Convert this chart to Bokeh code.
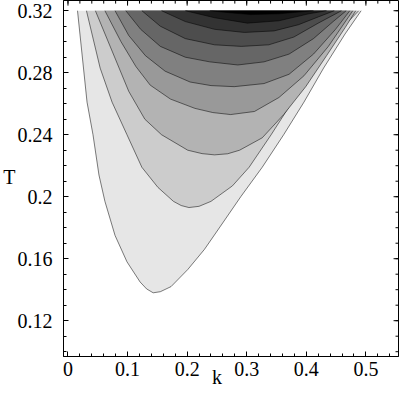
import numpy as np
from bokeh.plotting import figure
from bokeh.models import Range1d, LinearAxis, FixedTicker, CustomJSTickFormatter
from bokeh.embed import file_html
from bokeh.resources import INLINE

# ---------------- data ----------------
k_ticks = [0, 0.1, 0.2, 0.3, 0.4, 0.5]
k_tick_labels = ["0", "0.1", "0.2", "0.3", "0.4", "0.5"]
T_ticks = [0.12, 0.16, 0.2, 0.24, 0.28, 0.32]
T_tick_labels = ["0.12", "0.16", "0.2", "0.24", "0.28", "0.32"]
x_title, x_title_at = "k", 0.25     # axis titles and where they sit along their axis
y_title, y_title_at = "T", 0.2128

# contour curves, from the outermost (lowest level) to the innermost
L1_k = [0.016, 0.032, 0.042, 0.052, 0.062, 0.079, 0.099, 0.121, 0.132, 0.143, 0.155, 0.173, 0.201, 0.229, 0.256, 0.290, 0.326, 0.362, 0.396, 0.429, 0.465, 0.492]
L1_T = [0.320, 0.261, 0.240, 0.214, 0.197, 0.175, 0.158, 0.145, 0.1405, 0.138, 0.1387, 0.142, 0.153, 0.166, 0.181, 0.200, 0.219, 0.240, 0.261, 0.283, 0.305, 0.320]
L2_k = [0.031, 0.054, 0.074, 0.099, 0.124, 0.151, 0.177, 0.190, 0.203, 0.220, 0.240, 0.276, 0.304, 0.341, 0.376, 0.412, 0.450, 0.488]
L2_T = [0.320, 0.283, 0.261, 0.240, 0.219, 0.206, 0.197, 0.1943, 0.193, 0.1938, 0.197, 0.207, 0.219, 0.240, 0.261, 0.283, 0.305, 0.320]
L3_k = [0.046, 0.074, 0.102, 0.129, 0.157, 0.201, 0.225, 0.246, 0.268, 0.288, 0.326, 0.362, 0.399, 0.434, 0.465, 0.483]
L3_T = [0.320, 0.294, 0.268, 0.250, 0.240, 0.230, 0.2278, 0.227, 0.2277, 0.230, 0.238, 0.253, 0.271, 0.291, 0.309, 0.320]
L4_k = [0.062, 0.089, 0.114, 0.138, 0.172, 0.213, 0.243, 0.273, 0.313, 0.354, 0.396, 0.437, 0.478]
L4_T = [0.320, 0.300, 0.284, 0.272, 0.263, 0.257, 0.2543, 0.253, 0.255, 0.264, 0.278, 0.297, 0.320]
L5_k = [0.079, 0.102, 0.130, 0.163, 0.205, 0.240, 0.279, 0.329, 0.371, 0.412, 0.449, 0.473]
L5_T = [0.320, 0.304, 0.291, 0.281, 0.274, 0.2717, 0.271, 0.273, 0.279, 0.292, 0.308, 0.320]
L6_k = [0.097, 0.122, 0.155, 0.197, 0.238, 0.285, 0.329, 0.371, 0.412, 0.445, 0.467]
L6_T = [0.320, 0.308, 0.297, 0.290, 0.287, 0.285, 0.287, 0.292, 0.302, 0.313, 0.320]
L7_k = [0.124, 0.155, 0.197, 0.246, 0.291, 0.337, 0.379, 0.420, 0.459]
L7_T = [0.320, 0.310, 0.302, 0.298, 0.297, 0.298, 0.303, 0.312, 0.320]
L8_k = [0.157, 0.197, 0.246, 0.296, 0.346, 0.387, 0.420, 0.447]
L8_T = [0.320, 0.313, 0.308, 0.306, 0.307, 0.311, 0.316, 0.320]
L9_k = [0.197, 0.246, 0.301, 0.354, 0.404, 0.434]
L9_T = [0.320, 0.3155, 0.312, 0.3135, 0.318, 0.320]
L10_k = [0.238, 0.271, 0.307, 0.354, 0.412]
L10_T = [0.320, 0.3187, 0.3175, 0.318, 0.320]

curves = [(L1_k, L1_T), (L2_k, L2_T), (L3_k, L3_T), (L4_k, L4_T), (L5_k, L5_T),
          (L6_k, L6_T), (L7_k, L7_T), (L8_k, L8_T), (L9_k, L9_T), (L10_k, L10_T)]
band_gray = [230, 204, 179, 153, 128, 102, 77, 51, 26, 0]

# ---------------- figure ----------------
FONT = "'Liberation Serif', 'Times New Roman', serif"
X0, X1 = -0.0075, 0.5547
Y0, Y1 = 0.0969, 0.3266
p = figure(width=399, height=390, output_backend="svg", toolbar_location=None,
           x_range=Range1d(X0, X1), y_range=Range1d(Y0, Y1),
           min_border_left=59, min_border_right=1, min_border_top=0, min_border_bottom=0)
p.grid.visible = False
p.background_fill_color = "white"
p.border_fill_color = "white"
p.outline_line_color = "black"
p.outline_line_width = 1

for (kk, tt), g in zip(curves, band_gray):
    col = "#%02x%02x%02x" % (g, g, g)
    p.patch(kk, tt, fill_color=col, line_color=None)
    p.line(kk, tt, line_color="black", line_width=0.6, line_alpha=0.85)

k_minor = list(np.round(np.arange(0.0, 0.5541, 0.02), 3))
T_minor = list(np.round(np.arange(0.10, 0.3251, 0.01), 3))

LABEL_CODE = """
const i = tvals.findIndex(t => Math.abs(t - tick) < 1e-9);
return i >= 0 ? tlabels[i] : "";
"""

def style_axis(ax, ticks, minor, labels, standoff, tick_lines=True):
    ax.ticker = FixedTicker(ticks=ticks, minor_ticks=minor)
    ax.formatter = CustomJSTickFormatter(args=dict(tvals=list(ticks), tlabels=list(labels)), code=LABEL_CODE)
    ax.major_tick_in = 5 if tick_lines else 0
    ax.major_tick_out = 0
    ax.minor_tick_in = 3 if tick_lines else 0
    ax.minor_tick_out = 0
    ax.axis_line_color = "black" if tick_lines else None
    ax.major_tick_line_color = "black" if tick_lines else None
    ax.minor_tick_line_color = "black" if tick_lines else None
    ax.major_label_text_font = FONT
    ax.major_label_text_font_size = "20px"
    ax.major_label_text_color = "black"
    ax.major_label_standoff = standoff

style_axis(p.xaxis[0], k_ticks, k_minor, k_tick_labels, 5)
style_axis(p.yaxis[0], T_ticks, T_minor, T_tick_labels, 11)

# axis titles, carried as the single label of an extra tick-less axis
k_title = LinearAxis()
style_axis(k_title, [x_title_at], [], [x_title], -13, tick_lines=False)
p.add_layout(k_title, "below")
T_title = LinearAxis()
style_axis(T_title, [y_title_at], [], [y_title], -1, tick_lines=False)
p.add_layout(T_title, "left")

# ticks on the top and right frame edges
tlen_T, tmin_T = 0.0033, 0.002
tlen_k, tmin_k = 0.0083, 0.005
p.segment(x0=k_ticks, y0=[Y1] * len(k_ticks), x1=k_ticks, y1=[Y1 - tlen_T] * len(k_ticks), line_color="black", line_width=1)
p.segment(x0=k_minor, y0=[Y1] * len(k_minor), x1=k_minor, y1=[Y1 - tmin_T] * len(k_minor), line_color="black", line_width=1)
p.segment(x0=[X1] * len(T_ticks), y0=T_ticks, x1=[X1 - tlen_k] * len(T_ticks), y1=T_ticks, line_color="black", line_width=1)
p.segment(x0=[X1] * len(T_minor), y0=T_minor, x1=[X1 - tmin_k] * len(T_minor), y1=T_minor, line_color="black", line_width=1)

open("out.html", "w").write(file_html(p, INLINE))
